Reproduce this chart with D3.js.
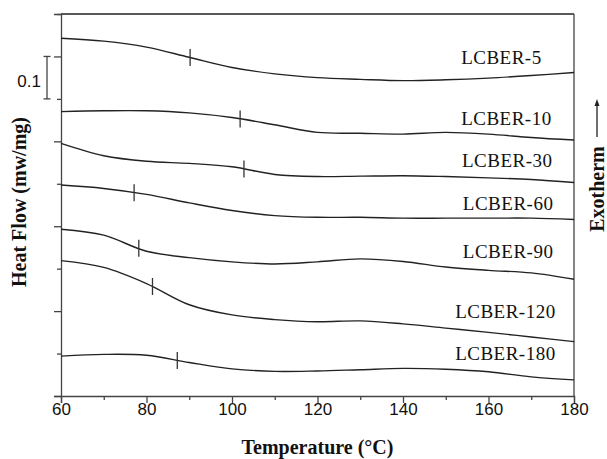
<!DOCTYPE html>
<html>
<head>
<meta charset="utf-8">
<script src="https://cdn.jsdelivr.net/npm/d3@7"></script>
<style>
  html, body { margin: 0; padding: 0; background: #fff; }
  svg { display: block; }
</style>
</head>
<body>
<svg id="chart" width="607" height="459"></svg>
<script>
// ---- data ----
const temps = [60, 70, 80, 90, 100, 110, 120, 130, 140, 150, 160, 170, 180];
const seriesNames = ["LCBER-5", "LCBER-10", "LCBER-30", "LCBER-60", "LCBER-90", "LCBER-120", "LCBER-180"];
const lcber5   = [0.843, 0.836, 0.822, 0.798, 0.774, 0.759, 0.750, 0.746, 0.743, 0.745, 0.749, 0.755, 0.762];
const lcber10  = [0.670, 0.672, 0.672, 0.667, 0.656, 0.639, 0.621, 0.619, 0.617, 0.621, 0.617, 0.609, 0.603];
const lcber30  = [0.595, 0.566, 0.553, 0.548, 0.540, 0.522, 0.517, 0.518, 0.519, 0.517, 0.514, 0.510, 0.503];
const lcber60  = [0.497, 0.489, 0.475, 0.455, 0.437, 0.425, 0.421, 0.421, 0.419, 0.419, 0.419, 0.419, 0.416];
const lcber90  = [0.393, 0.379, 0.341, 0.326, 0.316, 0.311, 0.316, 0.323, 0.317, 0.304, 0.296, 0.290, 0.275];
const lcber120 = [0.319, 0.303, 0.265, 0.215, 0.191, 0.180, 0.175, 0.177, 0.170, 0.160, 0.150, 0.139, 0.128];
const lcber180 = [0.094, 0.098, 0.096, 0.079, 0.064, 0.058, 0.059, 0.062, 0.065, 0.063, 0.057, 0.045, 0.038];
const allSeries = [lcber5, lcber10, lcber30, lcber60, lcber90, lcber120, lcber180];
const tgTemps = [90.2, 101.9, 102.8, 77.1, 78.2, 81.4, 87.2];
const labelTemps = [153.6, 153.6, 153.8, 154.0, 154.0, 152.2, 152.2];
const labelValues = [0.782, 0.639, 0.540, 0.438, 0.325, 0.184, 0.085];
const xMajorTicks = [60, 80, 100, 120, 140, 160, 180];
const xMinorTicks = [70, 90, 110, 130, 150, 170];
const yMajorTicks = [0, 0.2, 0.4, 0.6, 0.8];
const yMinorTicks = [0.1, 0.3, 0.5, 0.7, 0.9];
const scaleBar = [0.7, 0.8];
const scaleBarLabel = "0.1";

// ---- layout ----
const svg = d3.select("#chart");
const pLeft = 61, pRight = 574, pTop = 14, pBottom = 396;
const x = d3.scaleLinear().domain([60, 180]).range([pLeft, pRight]);
const y = d3.scaleLinear().domain([0, 0.9]).range([pBottom, pTop]);
const ink = "#222";
const axisInk = "#444";

// frame top and right
svg.append("line").attr("x1", pLeft).attr("x2", pRight).attr("y1", pTop).attr("y2", pTop)
  .attr("stroke", ink).attr("stroke-width", 1.3);
svg.append("line").attr("x1", pRight).attr("x2", pRight).attr("y1", pTop).attr("y2", pBottom)
  .attr("stroke", axisInk).attr("stroke-width", 1.3);

// x axis
const gx = svg.append("g").attr("transform", `translate(0,${pBottom})`)
  .call(d3.axisBottom(x).tickValues(xMajorTicks).tickSize(7).tickPadding(2).tickFormat(d3.format("d")));
gx.select(".domain").attr("stroke", axisInk).attr("stroke-width", 1.3);
gx.selectAll(".tick line").attr("stroke", axisInk).attr("stroke-width", 1.3);
gx.selectAll(".tick text").attr("font-family", "Liberation Sans, Arial, sans-serif")
  .attr("font-size", 17).attr("fill", "#111").attr("dy", "0.6em");
const gxm = svg.append("g").attr("transform", `translate(0,${pBottom})`)
  .call(d3.axisBottom(x).tickValues(xMinorTicks).tickSize(4).tickFormat(""));
gxm.select(".domain").remove();
gxm.selectAll(".tick line").attr("stroke", axisInk).attr("stroke-width", 1.3);

// y axis (no labels)
const gy = svg.append("g").attr("transform", `translate(${pLeft},0)`)
  .call(d3.axisLeft(y).tickValues(yMajorTicks).tickSize(7).tickFormat(""));
gy.select(".domain").attr("stroke", axisInk).attr("stroke-width", 1.3);
gy.selectAll(".tick line").attr("stroke", axisInk).attr("stroke-width", 1.3);
const gym = svg.append("g").attr("transform", `translate(${pLeft},0)`)
  .call(d3.axisLeft(y).tickValues(yMinorTicks).tickSize(4).tickFormat(""));
gym.select(".domain").remove();
gym.selectAll(".tick line").attr("stroke", axisInk).attr("stroke-width", 1.3);

// curves
const line = d3.line()
  .x((d, i) => x(temps[i]))
  .y(d => y(d))
  .curve(d3.curveCatmullRom.alpha(0.5));
svg.append("g").selectAll("path").data(allSeries).join("path")
  .attr("d", d => line(d))
  .attr("fill", "none").attr("stroke", ink).attr("stroke-width", 1.4);

// Tg markers
function valueAt(series, t) {
  const i = Math.min(temps.length - 2, Math.max(0, d3.bisectRight(temps, t) - 1));
  const f = (t - temps[i]) / (temps[i + 1] - temps[i]);
  return series[i] + f * (series[i + 1] - series[i]);
}
svg.append("g").selectAll("line").data(allSeries).join("line")
  .attr("x1", (d, i) => x(tgTemps[i])).attr("x2", (d, i) => x(tgTemps[i]))
  .attr("y1", (d, i) => y(valueAt(d, tgTemps[i])) - 8.5)
  .attr("y2", (d, i) => y(valueAt(d, tgTemps[i])) + 8.5)
  .attr("stroke", "#333").attr("stroke-width", 1.3);

// series labels
svg.append("g").selectAll("text").data(seriesNames).join("text")
  .attr("x", (d, i) => x(labelTemps[i]))
  .attr("y", (d, i) => y(labelValues[i]))
  .attr("font-family", "Liberation Serif, Times New Roman, serif")
  .attr("font-size", 19).attr("letter-spacing", 0.5).attr("fill", "#111")
  .text(d => d);

// scale bar
const sbx = 47;
svg.append("line").attr("x1", sbx).attr("x2", sbx).attr("y1", y(scaleBar[1])).attr("y2", y(scaleBar[0]))
  .attr("stroke", "#444").attr("stroke-width", 1.3);
scaleBar.forEach(v => {
  svg.append("line").attr("x1", sbx - 3.5).attr("x2", sbx + 3.5).attr("y1", y(v)).attr("y2", y(v))
    .attr("stroke", "#444").attr("stroke-width", 1.3);
});
svg.append("text").attr("x", 41).attr("y", 87).attr("text-anchor", "end")
  .attr("font-family", "Liberation Sans, Arial, sans-serif").attr("font-size", 17).attr("fill", "#111")
  .text(scaleBarLabel);

// axis titles
svg.append("text").attr("x", (pLeft + pRight) / 2).attr("y", 454).attr("text-anchor", "middle")
  .attr("font-family", "Liberation Serif, Times New Roman, serif").attr("font-weight", "bold")
  .attr("font-size", 20).attr("fill", "#111").text("Temperature (°C)");
svg.append("text").attr("transform", "translate(26,202) rotate(-90)").attr("text-anchor", "middle")
  .attr("font-family", "Liberation Serif, Times New Roman, serif").attr("font-weight", "bold")
  .attr("font-size", 20).attr("fill", "#111").text("Heat Flow (mw/mg)");
svg.append("text").attr("transform", "translate(604,189) rotate(-90)").attr("text-anchor", "middle")
  .attr("font-family", "Liberation Serif, Times New Roman, serif").attr("font-weight", "bold")
  .attr("font-size", 20).attr("fill", "#111").text("Exotherm");

// exotherm arrow
svg.append("line").attr("x1", 597).attr("x2", 597).attr("y1", 137).attr("y2", 104)
  .attr("stroke", "#222").attr("stroke-width", 1.3);
svg.append("path").attr("d", "M597,99 L594.5,106 L599.5,106 Z").attr("fill", "#222");
</script>
</body>
</html>
